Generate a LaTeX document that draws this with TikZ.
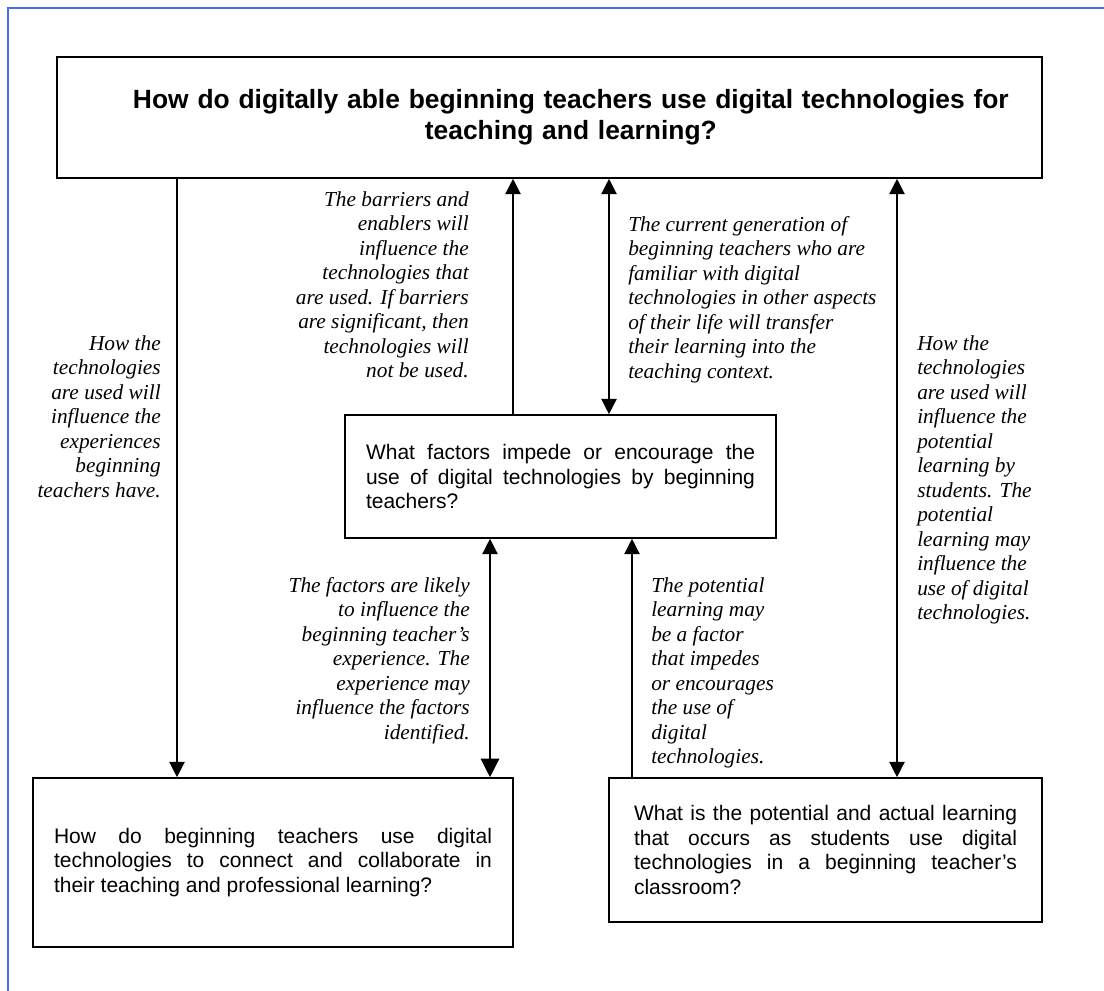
\documentclass[tikz,border=0pt]{standalone}
\usepackage{fontspec}
\setmainfont{Liberation Serif}
\setsansfont{Liberation Sans}
\usetikzlibrary{arrows.meta}
\definecolor{framecol}{RGB}{70,110,245}
\begin{document}
\begin{tikzpicture}[x=0.75pt,y=-0.75pt,
  box/.style={draw, line width=1.2pt, inner sep=0pt, font=\sffamily\fontsize{15.75pt}{18.4pt}\selectfont, align=justify},
  note/.style={inner sep=0pt, font=\itshape\fontsize{16pt}{18.4pt}\selectfont},
  conn/.style={line width=1pt, -{Triangle[width=11.5pt,length=11.5pt]}},
  both/.style={line width=1pt, {Triangle[width=11.5pt,length=11.5pt]}-{Triangle[width=11.5pt,length=11.5pt]}},
  bothbig/.style={line width=1pt, {Triangle[width=11.5pt,length=11.5pt]}-{Triangle[width=14pt,length=14pt]}}]
\useasboundingbox (0,0) rectangle (1104,991);
\draw[framecol, line width=1.5pt] (8,991) -- (8,8) -- (1104,8);

\node[box, minimum width=738.75pt, minimum height=90.75pt, text width=705pt, align=center,
  font=\sffamily\bfseries\fontsize{19.8pt}{23.25pt}\selectfont] (top) at (549.5,117.5)
  {\hspace*{32pt}How do digitally able beginning teachers use digital technologies for\\\hspace*{32pt}teaching and learning?};

\node[box, minimum width=323.25pt, minimum height=92.25pt, text width=291.75pt] (mid) at (560.5,476.5)
  {What factors impede or encourage the\linebreak use of digital technologies by beginning\linebreak teachers?};

\node[box, minimum width=360pt, minimum height=126.75pt, text width=328.5pt] (bl) at (273,862.5)
  {How do beginning teachers use digital\linebreak technologies to connect and collaborate in\linebreak their teaching and professional learning?};

\node[box, minimum width=324.75pt, minimum height=108pt, text width=287.25pt] (br) at (825.5,850)
  {What is the potential and actual learning\linebreak that occurs as students use digital\linebreak technologies in a beginning teacher’s\linebreak classroom?};

\node[note, anchor=north east, align=right] (la) at (161,335) {How the\\technologies\\are used will\\influence the\\experiences\\beginning\\teachers have.};
\node[note, anchor=north east, align=right] (lb) at (469,191) {The barriers and\\enablers will\\influence the\\technologies that\\are used. If barriers\\are significant, then\\technologies will\\not be used.};
\node[note, anchor=north west, align=left] (lc) at (628,216) {The current generation of\\beginning teachers who are\\familiar with digital\\technologies in other aspects\\of their life will transfer\\their learning into the\\teaching context.};
\node[note, anchor=north west, align=left] (ld) at (917,335) {How the\\technologies\\are used will\\influence the\\potential\\learning by\\students. The\\potential\\learning may\\influence the\\use of digital\\technologies.};
\node[note, anchor=north east, align=right] (le) at (470,577) {The factors are likely\\to influence the\\beginning teacher’s\\experience. The\\experience may\\influence the factors\\identified.};
\node[note, anchor=north west, align=left] (lf) at (651,577) {The potential\\learning may\\be a factor\\that impedes\\or encourages\\the use of\\digital\\technologies.};

\coordinate (x1) at (177,0);
\coordinate (x2) at (513,0);
\coordinate (x3) at (609,0);
\coordinate (x4) at (897,0);
\coordinate (x5) at (490,0);
\coordinate (x6) at (632,0);
\draw[conn] (top.south -| x1) -- (bl.north -| x1);
\draw[conn] (mid.north -| x2) -- (top.south -| x2);
\draw[both] (top.south -| x3) -- (mid.north -| x3);
\draw[both] (top.south -| x4) -- (br.north -| x4);
\draw[bothbig] (mid.south -| x5) -- (bl.north -| x5);
\draw[conn] (br.north -| x6) -- (mid.south -| x6);
\end{tikzpicture}
\end{document}
